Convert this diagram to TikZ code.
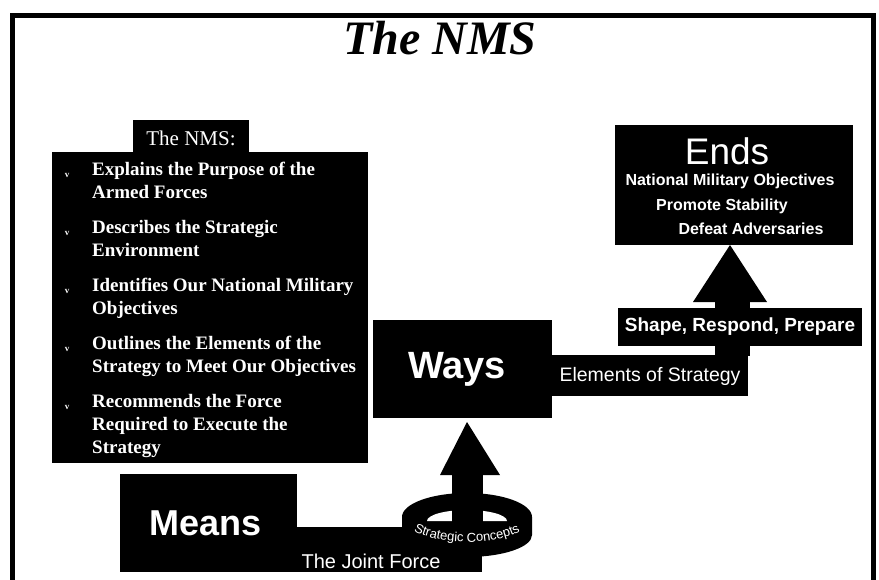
\documentclass[tikz,border=0pt]{standalone}
\usepackage{fontspec}
\setmainfont{Liberation Serif}
\setsansfont{Liberation Sans}
\usetikzlibrary{positioning, decorations.text}

\tikzset{
  blk/.style={fill=black},
  lbl/.style={text=white, font=\sffamily, inner sep=0pt},
  item/.style={text=white, font=\fontsize{19}{23}\selectfont\bfseries, anchor=north west, align=left, inner sep=0pt},
}

\begin{document}
\begin{tikzpicture}[x=1pt,y=-1pt]
\useasboundingbox (0,0) rectangle (879,579);
% frame and title
\draw[line width=5pt] (12,600) -- (12,15) -- (873,15) -- (873,600);
\node (title) at (440,38) {\fontsize{48}{52}\selectfont\bfseries\itshape The NMS};

% the list box
\fill[blk] (52,152) rectangle (368,463);
\fill[blk] (133,120) rectangle (249,153);
\node[text=white, font=\fontsize{21}{24}\selectfont] (nmshead) at (191,138) {The NMS:};
\foreach \t [count=\i from 0] in {{Explains the Purpose of the\\Armed Forces},
    {Describes the Strategic\\Environment},
    {Identifies Our National Military\\Objectives},
    {Outlines the Elements of the\\Strategy to Meet Our Objectives},
    {Recommends the Force\\Required to Execute the\\Strategy}}{
  \node[item] (item\i) at (92,{162+58*\i}) {\t};
  \node[text=white, font=\fontsize{9}{9}\selectfont\bfseries, anchor=base, inner sep=0pt] (mark\i) at (67,{177+58*\i}) {v};
}

% ends
\fill[blk] (615,125) rectangle (853,245);
\node[lbl, font=\sffamily\fontsize{37}{40}\selectfont] (ends) at (727,151) {Ends};
\node[lbl, font=\sffamily\bfseries\fontsize{16}{18}\selectfont] (nmo) at (730,181) {National Military Objectives};
\node[lbl, font=\sffamily\bfseries\fontsize{16}{18}\selectfont] (promote) at (722,206) {Promote Stability};
\node[lbl, font=\sffamily\bfseries\fontsize{16}{18}\selectfont] (defeat) at (751,229) {Defeat Adversaries};

% ways and the step up to ends
\fill[blk] (373,320) rectangle (552,418);
\node[lbl, font=\sffamily\bfseries\fontsize{38}{40}\selectfont] (ways) at (457,369) {Ways};
\fill[blk] (715,356) rectangle (750,300);
\fill[blk] (693,302) -- (730,245) -- (767,302) -- cycle;
\fill[blk] (552,355) rectangle (748,396);
\node[lbl, font=\sffamily\fontsize{19.5}{22}\selectfont] (elem) at (650,376) {Elements of Strategy};
\fill[blk] (618,308) rectangle (862,346);
\node[lbl, font=\sffamily\bfseries\fontsize{19}{22}\selectfont] (shape) at (740,327) {Shape, Respond, Prepare};

% means and the ring
\fill[blk] (120,474) rectangle (297,572);
\node[lbl, font=\sffamily\bfseries\fontsize{36}{40}\selectfont] (means) at (206,523) {Means};
\fill[blk] (297,527) rectangle (482,572);
\node[lbl, font=\sffamily\fontsize{20}{22}\selectfont] (joint) at (371,561) {The Joint Force};
\fill[blk] (402,517) arc[start angle=180, end angle=360, x radius=65, y radius=24]
  -- (532,535) arc[start angle=0, end angle=180, x radius=65, y radius=22] -- cycle;
\fill[white] (427,521) arc[start angle=180, end angle=360, x radius=40, y radius=11] -- cycle;
\fill[blk] (452,470) rectangle (483,523);
\fill[blk] (440,475) -- (467,422) -- (500,475) -- cycle;
\path[decorate, decoration={text along path, text color=white, text align=center,
  text={|\sffamily\fontsize{13}{13}\selectfont|Strategic Concepts}}]
  (407,527) .. controls (433,547) and (501,547) .. (527,527);
\end{tikzpicture}
\end{document}
